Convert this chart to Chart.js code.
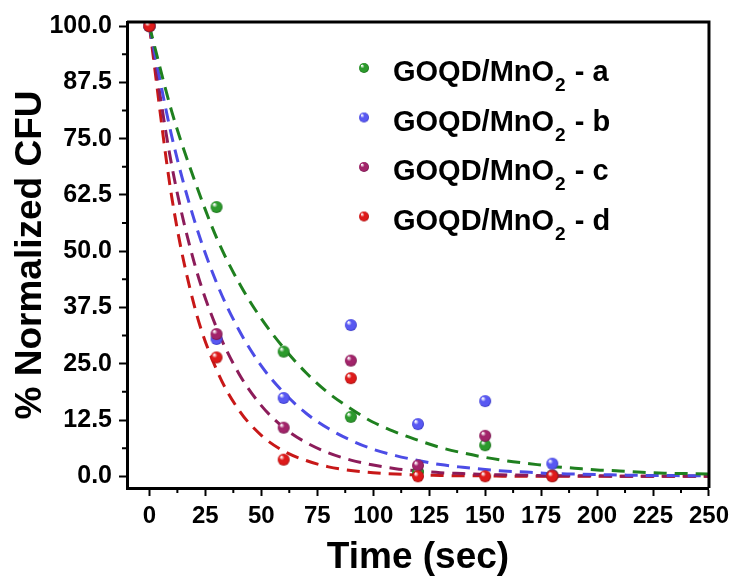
<!DOCTYPE html>
<html>
<head>
<meta charset="utf-8">
<script src="https://cdn.jsdelivr.net/npm/chart.js@4.4.1/dist/chart.umd.min.js"></script>
<style>
    body { margin: 0; background: #fff; }
</style>
</head>
<body>
<canvas id="grafico" width="735" height="577"></canvas>
<script>
/* DADOS */

// tempos medidos (sec)
const tempos = [0, 30, 60, 90, 120, 150, 180];
const serieA = [100, 59.8, 27.7, 13.2, 1.0, 6.9, 0.2];
const serieB = [100, 30.5, 17.4, 33.6, 11.6, 16.7, 2.8];
const serieC = [100, 31.6, 10.8, 25.7, 2.4, 9.0, 0.2];
const serieD = [100, 26.4, 3.7, 21.8, 0, 0, 0];

// curvas de ajuste
const tempoAjuste = [0, 10, 20, 30, 40, 50, 60, 70, 80, 90, 100, 110, 120, 130, 140, 150, 160, 170, 180, 190, 200, 210, 220, 230, 240, 250];
const ajusteA = [100, 81, 66, 53, 43, 35, 28.5, 23, 18.5, 15, 12, 9.8, 8.0, 6.4, 5.2, 4.2, 3.4, 2.8, 2.2, 1.8, 1.4, 1.2, 0.9, 0.7, 0.6, 0.5];
const ajusteB = [100, 75.5, 57, 43, 32.5, 24.5, 18.6, 14, 10.6, 8.0, 6.0, 4.6, 3.5, 2.6, 2.0, 1.5, 1.1, 0.9, 0.6, 0.5, 0.4, 0.3, 0.2, 0.2, 0.1, 0.1];
const ajusteC = [100, 69, 47.5, 33, 22.8, 15.7, 10.8, 7.5, 5.2, 3.6, 2.5, 1.7, 1.2, 0.8, 0.6, 0.4, 0.3, 0.2, 0.1, 0.1, 0.1, 0, 0, 0, 0, 0];
const ajusteD = [100, 62, 38, 23.7, 14.7, 9.1, 5.6, 3.5, 2.1, 1.3, 0.8, 0.5, 0.3, 0.2, 0.1, 0.1, 0, 0, 0, 0, 0, 0, 0, 0, 0, 0];

const rotulos = ['a', 'b', 'c', 'd'];
const ticksX = [0, 25, 50, 75, 100, 125, 150, 175, 200, 225, 250];
const ticksY = [0, 12.5, 25, 37.5, 50, 62.5, 75, 87.5, 100];
const menoresX = [12.5, 37.5, 62.5, 87.5, 112.5, 137.5, 162.5, 187.5, 212.5, 237.5];
const menoresY = [6.25, 18.75, 31.25, 43.75, 56.25, 68.75, 81.25, 93.75];

const coresPonto = ['#2c9a2c', '#5858f2', '#a2246a', '#de1a1a'];
const coresBorda = ['#176a17', '#3535c0', '#701448', '#a00e0e'];
const coresLinha = ['#1f801f', '#4c4ce6', '#8c1c5a', '#c81818'];

const fonte = '"Liberation Sans", Arial, sans-serif';

/* FUNCOES */

function esfera(cor, borda, r) {
    let c = document.createElement('canvas');
    c.width = r * 2 + 2;
    c.height = r * 2 + 2;
    let ctx = c.getContext('2d');
    let g = ctx.createRadialGradient(r * 0.75, r * 0.7, r * 0.1, r + 1, r + 1, r);
    g.addColorStop(0, '#ffffff');
    g.addColorStop(0.35, cor);
    g.addColorStop(0.8, cor);
    g.addColorStop(1, borda);
    ctx.fillStyle = g;
    ctx.beginPath();
    ctx.arc(r + 1, r + 1, r, 0, Math.PI * 2);
    ctx.fill();
    return c;
}

function pares(xs, ys) {
    return xs.map((x, i) => ({ x: x, y: ys[i] }));
}

const esferas = coresPonto.map((c, i) => esfera(c, coresBorda[i], 6));
const esferasLegenda = coresPonto.map((c, i) => esfera(c, coresBorda[i], 5));

const series = [serieA, serieB, serieC, serieD];
const ajustes = [ajusteA, ajusteB, ajusteC, ajusteD];

let datasets = [];
ajustes.forEach((aj, i) => {
    datasets.push({
        label: 'ajuste ' + rotulos[i],
        data: pares(tempoAjuste, aj),
        showLine: true,
        borderColor: coresLinha[i],
        borderWidth: 3,
        borderDash: [13, 8],
        pointRadius: 0,
        cubicInterpolationMode: 'monotone',
        order: 10 + i
    });
});
series.forEach((s, i) => {
    datasets.push({
        label: 'GOQD/MnO2 - ' + rotulos[i],
        data: pares(tempos, s),
        pointStyle: esferas[i],
        pointRadius: 6,
        showLine: false,
        order: 3 - i
    });
});

/* PLUGINS */

const moldura = {
    id: 'moldura',
    afterDraw(chart) {
        const ctx = chart.ctx;
        const a = chart.chartArea;
        const sx = chart.scales.x;
        const sy = chart.scales.y;
        ctx.save();
        ctx.strokeStyle = '#000';
        ctx.lineWidth = 3;
        ctx.beginPath();
        ctx.moveTo(a.left, a.top);
        ctx.lineTo(a.right, a.top);
        ctx.lineTo(a.right, a.bottom);
        ctx.stroke();
        ctx.lineWidth = 2;
        ctx.beginPath();
        menoresX.forEach(v => {
            let px = sx.getPixelForValue(v);
            ctx.moveTo(px, a.bottom);
            ctx.lineTo(px, a.bottom + 5);
        });
        menoresY.forEach(v => {
            let py = sy.getPixelForValue(v);
            ctx.moveTo(a.left, py);
            ctx.lineTo(a.left - 5, py);
        });
        ctx.stroke();

        // legenda
        ctx.fillStyle = '#000';
        ctx.textBaseline = 'alphabetic';
        rotulos.forEach((r, i) => {
            let y = 68 + i * 49.5;
            ctx.drawImage(esferasLegenda[i], 364 - 6, y - 6);
            ctx.font = 'bold 29px ' + fonte;
            ctx.fillText('GOQD/MnO', 393, y + 13);
            let w = ctx.measureText('GOQD/MnO').width;
            ctx.font = 'bold 19px ' + fonte;
            ctx.fillText('2', 393 + w + 1, y + 23);
            let w2 = ctx.measureText('2').width;
            ctx.font = 'bold 29px ' + fonte;
            ctx.fillText(' - ' + r, 393 + w + w2 + 2, y + 13);
        });
        ctx.restore();
    }
};

/* GRAFICO */

const grafico = new Chart(document.querySelector('#grafico'), {
    type: 'scatter',
    data: { datasets: datasets },
    options: {
        responsive: false,
        animation: false,
        layout: { padding: { top: 17, right: 26, left: 0, bottom: 0 } },
        plugins: {
            legend: { display: false },
            tooltip: { enabled: false }
        },
        scales: {
            x: {
                type: 'linear',
                min: -10,
                max: 250,
                afterBuildTicks: (s) => { s.ticks = ticksX.map(v => ({ value: v })); },
                afterFit: (s) => { s.height = 89; },
                border: { display: true, width: 3, color: '#000' },
                grid: { drawOnChartArea: false, drawTicks: true, tickLength: 8, tickWidth: 2, tickColor: '#000' },
                ticks: { color: '#000', padding: 6, maxRotation: 0, font: { family: fonte, size: 24, weight: 'bold' } },
                title: { display: true, text: 'Time (sec)', color: '#000', padding: { top: 0, bottom: 1 }, font: { family: fonte, size: 37, weight: 'bold', lineHeight: 1 } }
            },
            y: {
                type: 'linear',
                min: -2.6,
                max: 100.9,
                afterBuildTicks: (s) => { s.ticks = ticksY.map(v => ({ value: v })); },
                afterFit: (s) => { s.width = 127; },
                border: { display: true, width: 3, color: '#000' },
                grid: { drawOnChartArea: false, drawTicks: true, tickLength: 8, tickWidth: 2, tickColor: '#000' },
                ticks: { color: '#000', padding: 7, callback: (v) => Number(v).toFixed(1), font: { family: fonte, size: 25, weight: 'bold' } },
                title: { display: true, text: '% Normalized CFU', color: '#000', padding: { top: 12, bottom: 0 }, font: { family: fonte, size: 37, weight: 'bold', lineHeight: 1 } }
            }
        }
    },
    plugins: [moldura]
});
</script>
</body>
</html>
